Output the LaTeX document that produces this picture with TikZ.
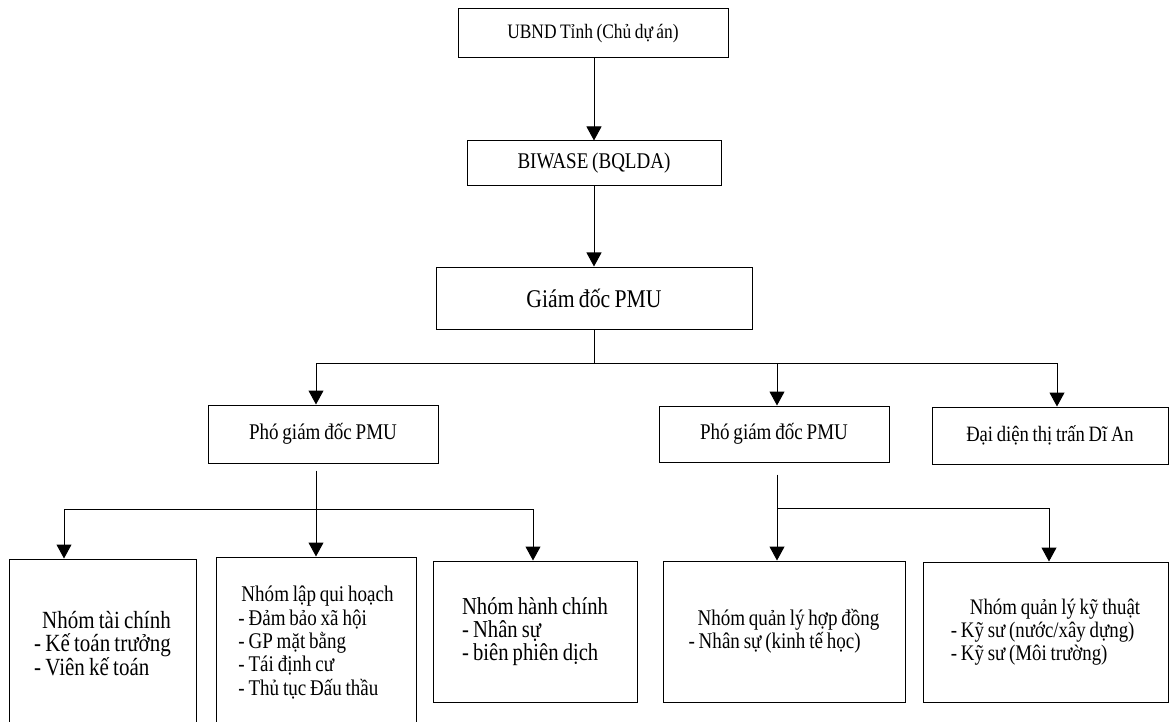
\documentclass[tikz,border=0pt]{standalone}
\usepackage{fontspec}
\setmainfont{Liberation Serif}[FakeStretch=0.85, WordSpace=0.8]
\usetikzlibrary{arrows.meta}

\begin{document}
\begin{tikzpicture}[x=1pt, y=-1pt,
  box/.style={draw, line width=1pt, inner sep=0pt, align=center},
  grp/.style={draw, line width=1pt, inner sep=0pt, align=left},
  link/.style={line width=1pt},
  arr/.style={line width=1pt, -{Triangle[width=15pt, length=14pt]}},
  fs/.style={font=\fontsize{#1}{23.3}\selectfont}
]
% page and clipping frame
\path[use as bounding box, fill=white] (0,0) rectangle (1170,722);
\clip (0,0) rectangle (1170,722);

% top of the hierarchy
\node[box, fs=20.5, minimum width=270pt, minimum height=49pt] (ubnd) at (593,33.5) {UBND Tỉnh (Chủ dự án)};
\node[box, fs=22.4, minimum width=254pt, minimum height=45pt] (biwase) at (594,163.5) {BIWASE (BQLDA)};
\node[box, fs=25.5, minimum width=316pt, minimum height=62pt] (gd) at (594,298) {Giám đốc PMU};

% second level
\node[box, fs=22.4, minimum width=230pt, minimum height=58pt] (p1) at (323,434) {Phó giám đốc PMU};
\node[box, fs=22.4, minimum width=230pt, minimum height=56pt] (p2) at (774,434) {Phó giám đốc PMU};
\node[box, fs=21.9, minimum width=236pt, minimum height=57pt] (dd) at (1050,435.5) {Đại diện thị trấn Dĩ An};

% working groups
\node[grp, fs=24.7, minimum width=187pt, minimum height=169pt] (tc) at (102.5,643.5)
  {\hspace*{8pt}Nhóm tài chính\\- Kế toán trưởng\\- Viên kế toán};
\node[grp, fs=22.4, minimum width=200pt, minimum height=171pt] (lq) at (316,642.5)
  {\hspace*{3pt}Nhóm lập qui hoạch\\- Đảm bảo xã hội\\- GP mặt bằng\\- Tái định cư\\- Thủ tục Đấu thầu};
\node[grp, fs=24.3, minimum width=204pt, minimum height=141pt] (hc) at (535,631.5)
  {Nhóm hành chính\\- Nhân sự\\- biên phiên dịch};
\node[grp, fs=22.4, minimum width=242pt, minimum height=141pt] (hd) at (784,631.5)
  {\hspace*{9pt}Nhóm quản lý hợp đồng\\- Nhân sự (kinh tế học)};
\node[grp, fs=22.2, minimum width=245pt, minimum height=140pt] (kt) at (1045.5,632)
  {\hspace*{19pt}Nhóm quản lý kỹ thuật\\- Kỹ sư (nước/xây dựng)\\- Kỹ sư (Môi trường)};

% junction points of the branch lines
\coordinate (bus1) at (594,363);
\coordinate (bus2) at (315,509);
\coordinate (bus3) at (777,508);

% connectors
\draw[arr] (ubnd.south -| biwase.north) -- (biwase.north);
\draw[arr] (biwase.south) -- (gd.north);
\draw[link] (gd.south) -- (bus1);
\draw[arr] (bus1) -| ([xshift=-7pt]p1.north);
\draw[arr] (bus1) -| ([xshift=3pt]p2.north);
\draw[arr] (bus1) -| ([xshift=7pt]dd.north);

\draw[arr] ([yshift=-7pt]p1.south -| lq.north) -- (lq.north);
\draw[arr] (bus2) -| ([xshift=-38.5pt]tc.north);
\draw[arr] (bus2) -| ([xshift=-2pt]hc.north);

\draw[arr] ([yshift=-12pt]p2.south -| bus3) -- ([xshift=-7pt]hd.north);
\draw[arr] (bus3) -| ([xshift=3.5pt]kt.north);
\end{tikzpicture}
\end{document}
